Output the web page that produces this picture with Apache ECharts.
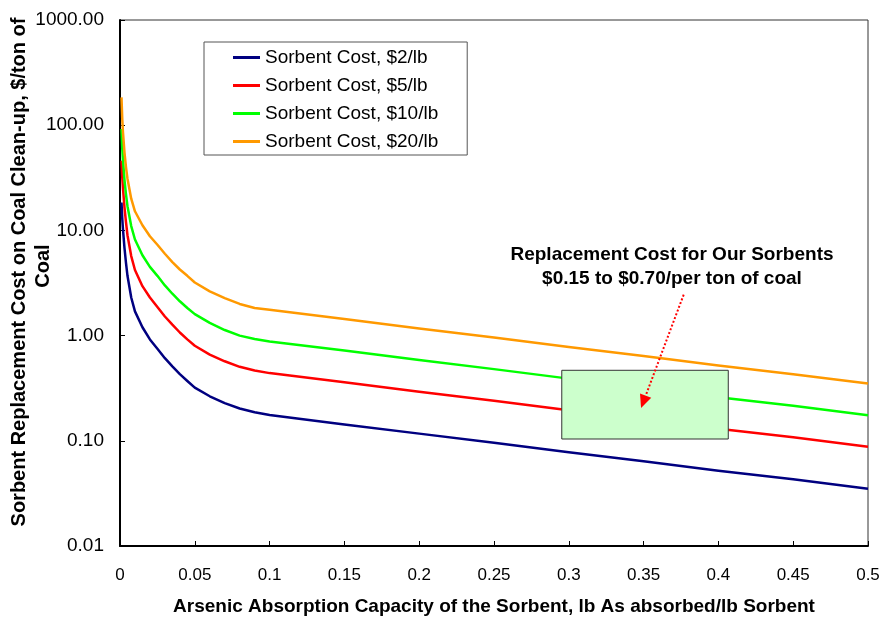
<!DOCTYPE html>
<html>
<head>
<meta charset="utf-8">
<script src="https://cdn.jsdelivr.net/npm/echarts@6/dist/echarts.min.js"></script>
<style>
  html, body { margin: 0; padding: 0; background: #fff; }
  #chart { width: 884px; height: 617px; }
</style>
</head>
<body>
<div id="chart"></div>
<script>
// capacity, lb As absorbed / lb sorbent
const capacity = [0.001, 0.0015, 0.002, 0.003, 0.004, 0.005, 0.0075, 0.01, 0.015, 0.02, 0.025, 0.03, 0.035, 0.04, 0.045, 0.05, 0.06, 0.07, 0.08, 0.09, 0.1, 0.15, 0.2, 0.25, 0.3, 0.35, 0.4, 0.45, 0.5];

// replacement cost, $/ton of coal
const cost2 = [18.4, 13, 10.2, 6.8, 4.9, 3.7, 2.3, 1.7, 1.2, 0.92, 0.75, 0.61, 0.51, 0.43, 0.37, 0.32, 0.265, 0.228, 0.203, 0.187, 0.176, 0.143, 0.117, 0.096, 0.078, 0.064, 0.052, 0.043, 0.035];
const cost5 = [46, 32, 25, 16.5, 12, 9.0, 5.7, 4.2, 2.95, 2.3, 1.87, 1.52, 1.27, 1.07, 0.92, 0.8, 0.66, 0.57, 0.505, 0.465, 0.44, 0.36, 0.292, 0.24, 0.195, 0.16, 0.13, 0.108, 0.088];
const cost10 = [92, 60, 46, 30, 22, 17, 11, 8.2, 5.8, 4.5, 3.7, 3.0, 2.5, 2.12, 1.83, 1.6, 1.32, 1.13, 1.0, 0.93, 0.88, 0.72, 0.585, 0.48, 0.39, 0.32, 0.26, 0.215, 0.175];
const cost20 = [184, 115, 85, 55, 40, 31, 20, 15.2, 11.2, 8.8, 7.3, 6.0, 5.0, 4.25, 3.7, 3.2, 2.63, 2.27, 2.0, 1.83, 1.76, 1.44, 1.17, 0.96, 0.78, 0.64, 0.52, 0.43, 0.35];

const seriesNames = ['Sorbent Cost, $2/lb', 'Sorbent Cost, $5/lb', 'Sorbent Cost, $10/lb', 'Sorbent Cost, $20/lb'];
const seriesColors = ['#000080', '#ff0000', '#00ff00', '#ff9900'];

const xTickLabels = ['0', '0.05', '0.1', '0.15', '0.2', '0.25', '0.3', '0.35', '0.4', '0.45', '0.5'];
const yTickLabels = ['0.01', '0.10', '1.00', '10.00', '100.00', '1000.00'];

// annotation: highlighted range box and arrow, in data units
const boxX = [0.2953, 0.4066];
const boxY = [0.104, 0.468];
const arrowFrom = [0.3768, 2.45];
const arrowTo = [0.3483, 0.2055];
const noteLines = ['Replacement Cost for Our Sorbents', '$0.15 to $0.70/per ton of coal'];

const FONT = '"Liberation Sans", Arial, sans-serif';

const chart = echarts.init(document.getElementById('chart'), null, { renderer: 'canvas' });

const buildSeries = (name, values, color) => ({
  name,
  type: 'line',
  data: capacity.map((x, i) => [x, values[i]]),
  smooth: false,
  showSymbol: false,
  symbol: 'none',
  lineStyle: { width: 2.5, color, join: 'round' },
  itemStyle: { color },
  z: 2,
});

const allCosts = [cost2, cost5, cost10, cost20];

chart.setOption({
  animation: false,
  backgroundColor: '#fff',
  textStyle: { fontFamily: FONT },
  grid: {
    left: 120,
    right: 16,
    top: 20,
    bottom: 71,
    outerBoundsMode: 'none',
    containLabel: false,
    show: true,
    borderColor: '#333',
    borderWidth: 1,
  },
  legend: {
    orient: 'vertical',
    left: 204,
    top: 42,
    padding: [6, 29, 4, 29],
    itemGap: 9,
    itemWidth: 27,
    itemHeight: 3,
    icon: 'rect',
    backgroundColor: '#fff',
    borderColor: '#555',
    borderWidth: 1,
    borderRadius: 0,
    textStyle: { fontSize: 19, color: '#000', fontFamily: FONT },
    data: seriesNames,
  },
  xAxis: {
    type: 'value',
    min: 0,
    max: 0.5,
    interval: 0.05,
    name: 'Arsenic Absorption Capacity of the Sorbent, lb As absorbed/lb Sorbent',
    nameLocation: 'middle',
    nameGap: 51,
    nameTextStyle: { fontSize: 19, fontWeight: 'bold', color: '#000', fontFamily: FONT },
    axisLine: { lineStyle: { color: '#000', width: 2 } },
    axisTick: { inside: true, length: 5, lineStyle: { color: '#000' } },
    axisLabel: {
      fontSize: 17,
      color: '#000',
      margin: 21,
      fontFamily: FONT,
      formatter: (v) => xTickLabels[Math.round(v / 0.05)],
    },
    splitLine: { show: false },
  },
  yAxis: {
    type: 'log',
    logBase: 10,
    min: 0.01,
    max: 1000,
    axisLine: { show: true, lineStyle: { color: '#000', width: 2 } },
    axisTick: { show: true, inside: true, length: 5, lineStyle: { color: '#000' } },
    axisLabel: {
      fontSize: 19,
      color: '#000',
      margin: 16,
      fontFamily: FONT,
      formatter: (v) => yTickLabels[Math.round(Math.log10(v)) + 2],
    },
    splitLine: { show: false },
  },
  series: allCosts.map((c, i) => buildSeries(seriesNames[i], c, seriesColors[i])),
});

// annotation elements placed through the chart's own scales
const toPx = (pt) => chart.convertToPixel({ gridIndex: 0 }, pt);
const p1 = toPx([boxX[0], boxY[1]]);
const p2 = toPx([boxX[1], boxY[0]]);
const a0 = toPx(arrowFrom);
const a1 = toPx(arrowTo);
const ang = Math.atan2(a1[1] - a0[1], a1[0] - a0[0]);
const headLen = 13;
const headHalf = 6;
const baseX = a1[0] - headLen * Math.cos(ang);
const baseY = a1[1] - headLen * Math.sin(ang);
const head = [
  [a1[0], a1[1]],
  [baseX + headHalf * Math.sin(ang), baseY - headHalf * Math.cos(ang)],
  [baseX - headHalf * Math.sin(ang), baseY + headHalf * Math.cos(ang)],
];

const boldText = (text, x, y, size, rotation) => ({
  type: 'text',
  z: 60,
  x,
  y,
  rotation: rotation || 0,
  style: {
    text,
    font: 'bold ' + size + 'px ' + FONT,
    fill: '#000',
    align: 'center',
    verticalAlign: 'middle',
  },
});

chart.setOption({
  graphic: [
    {
      type: 'rect',
      z: 50,
      shape: { x: p1[0], y: p1[1], width: p2[0] - p1[0], height: p2[1] - p1[1] },
      style: { fill: '#ccffcc', stroke: '#333', lineWidth: 1 },
    },
    {
      type: 'line',
      z: 60,
      shape: { x1: a0[0], y1: a0[1], x2: baseX, y2: baseY },
      style: { stroke: '#ff0000', lineWidth: 2, lineDash: [2, 2] },
    },
    {
      type: 'polygon',
      z: 60,
      shape: { points: head },
      style: { fill: '#ff0000' },
    },
    boldText(noteLines[0], 672, 255, 19),
    boldText(noteLines[1], 672, 279, 19),
    boldText('Sorbent Replacement Cost on Coal Clean-up, $/ton of', 19, 272, 20, Math.PI / 2),
    boldText('Coal', 43, 266, 20, Math.PI / 2),
  ],
});

window.addEventListener('resize', () => chart.resize());
</script>
</body>
</html>
